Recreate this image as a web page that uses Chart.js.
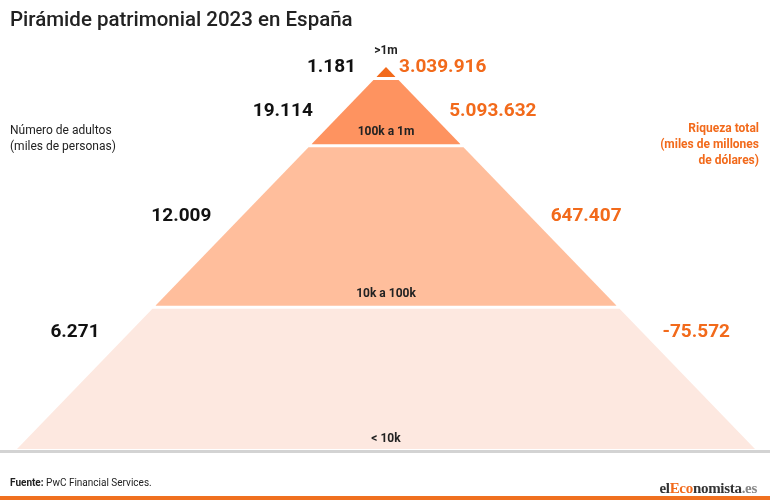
<!DOCTYPE html>
<html lang="es">
<head>
<meta charset="utf-8">
<title>Pirámide patrimonial 2023 en España</title>
<script src="https://cdn.jsdelivr.net/npm/chart.js@4.4.0/dist/chart.umd.min.js"></script>
<style>
  html, body { margin: 0; padding: 0; background: #fff; }
  body { width: 770px; height: 500px; position: relative; overflow: hidden; font-family: Roboto, "Noto Sans", sans-serif; }
  #wrap { position: absolute; left: 0; top: 0; width: 770px; height: 500px; }
  .txt { position: absolute; white-space: nowrap; }
  #title { left: 10px; top: 7px; font-size: 20.5px; line-height: 24px; color: #222; font-weight: 500; }
  #leftCap { left: 10px; top: 122px; font-size: 12px; line-height: 16px; color: #222; }
  #rightCap { right: 11px; top: 120px; font-size: 12px; line-height: 16px; color: #f26a1b; font-weight: bold; text-align: right; }
  #rule { position: absolute; left: 0; top: 450px; width: 770px; height: 3px; background: #d3d3d3; }
  #source { left: 10px; top: 477px; font-size: 10px; line-height: 12px; color: #222; }
  #logo { right: 13px; top: 479px; font-family: "Liberation Serif", "DejaVu Serif", serif; font-weight: bold; font-size: 15px; line-height: 18px; color: #333; letter-spacing: -0.3px; }
  #logo .o { color: #f26a1b; }
  #logo .g { color: #888; }
  #bar { position: absolute; left: 0; top: 496px; width: 770px; height: 4px; background: #f0701f; }
</style>
</head>
<body>
<div id="wrap"><canvas id="pyramidChart"></canvas></div>
<div class="txt" id="title">Pirámide patrimonial 2023 en España</div>
<div class="txt" id="leftCap">Número de adultos<br>(miles de personas)</div>
<div class="txt" id="rightCap">Riqueza total<br>(miles de millones<br>de dólares)</div>
<div id="rule"></div>
<div class="txt" id="source"><b>Fuente:</b> PwC Financial Services.</div>
<div class="txt" id="logo">el<span class="o">Eco</span>nomista<span class="g">.es</span></div>
<div id="bar"></div>

<script>
// Data (top tier first)
const tiers = [">1m", "100k a 1m", "10k a 100k", "< 10k"];
const adults = [1181, 19114, 12009, 6271];          // miles de personas
const wealth = [3039916, 5093632, 647407, -75572];  // miles de millones de dólares

const tierColors = ["#f26a1b", "#fe9360", "#ffbe9c", "#fde8e0"];

// Pyramid shape: height fractions of each tier boundary (apex = 1, base = 0)
const shapeLevels = [1, 0.974, 0.798, 0.375, 0];
const tierGap = 0.008;
// height fraction where the side numbers sit
const numberLevels = [1.0, 0.883, 0.608, 0.305];

function fmt(n) {
  const s = Math.abs(n).toString().replace(/\B(?=(\d{3})+(?!\d))/g, ".");
  return (n < 0 ? "-" : "") + s;
}

function halfWidth(h) {
  return Math.max(0, 1 - h);
}

function buildDatasets() {
  return tiers.map((name, i) => {
    const top = shapeLevels[i] - (i ? tierGap : 0);
    const bot = shapeLevels[i + 1];
    return {
      label: name,
      data: [
        { x: -halfWidth(bot), y: bot },
        { x: -halfWidth(top), y: top },
        { x: halfWidth(top), y: top },
        { x: halfWidth(bot), y: bot },
      ],
      backgroundColor: tierColors[i],
      borderWidth: 0,
      pointRadius: 0,
      tension: 0,
      fill: { value: bot },
      clip: false,
    };
  });
}

// Side numbers and tier names
const pyramidLabels = {
  id: "pyramidLabels",
  afterDatasetsDraw(chart) {
    const { ctx, scales } = chart;
    const xs = scales.x;
    const ys = scales.y;
    ctx.save();
    ctx.textBaseline = "middle";

    tiers.forEach((name, i) => {
      const h = numberLevels[i];
      const y = ys.getPixelForValue(h);
      const left = xs.getPixelForValue(-halfWidth(h));
      const right = xs.getPixelForValue(halfWidth(h));

      ctx.font = "bold 19px Roboto, sans-serif";
      ctx.fillStyle = "#111";
      ctx.textAlign = "right";
      ctx.fillText(fmt(adults[i]), left - 30, y);

      ctx.fillStyle = "#f26a1b";
      ctx.textAlign = "left";
      ctx.fillText(fmt(wealth[i]), right + (i ? 20 : 13), y);

      // tier name
      let ny;
      if (i === 0) ny = ys.getPixelForValue(shapeLevels[0]) - 16;
      else ny = ys.getPixelForValue(shapeLevels[i + 1]) - (i === 3 ? 10 : 12);
      ctx.font = "bold 12px Roboto, sans-serif";
      ctx.fillStyle = "#222";
      ctx.textAlign = "center";
      ctx.fillText(name, xs.getPixelForValue(0), ny);
    });
    ctx.restore();
  },
};

document.addEventListener("DOMContentLoaded", () => {
  const el = document.getElementById("pyramidChart");
  new Chart(el, {
    type: "line",
    data: { datasets: buildDatasets() },
    options: {
      responsive: true,
      maintainAspectRatio: false,
      animation: false,
      events: [],
      layout: { padding: { left: 17, right: 15, top: 67, bottom: 51 } },
      plugins: {
        legend: { display: false },
        tooltip: { enabled: false },
        title: { display: false },
      },
      scales: {
        x: { type: "linear", min: -1, max: 1, display: false },
        y: { type: "linear", min: 0, max: 1, display: false },
      },
    },
    plugins: [pyramidLabels],
  });
});
</script>
</body>
</html>
